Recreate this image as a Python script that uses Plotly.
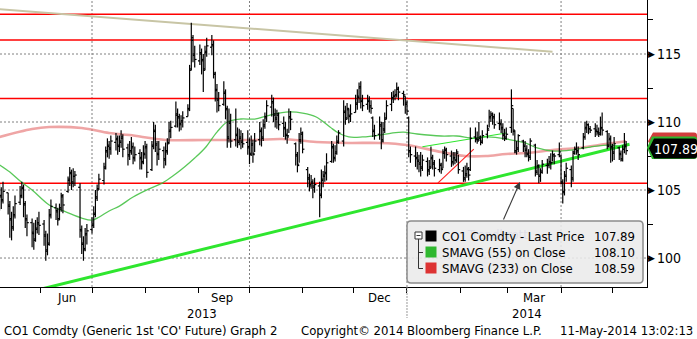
import pandas as pd
import plotly.graph_objects as go

# ---------------- data ----------------
dates = pd.bdate_range("2013-05-08", "2014-05-09")

opens = [
    104.2, 104.5, 104.3,
    104.8, 103.9, 102.8, 102.3, 103.2,
    104.1, 104.5, 105.1, 103.9, 102.9,
    102.6, 101.9, 101.4, 102.1, 102.6,
    102.5, 101.7, 100.5, 101.1, 103.1,
    103.7, 103.5, 102.9, 103.7, 104.5,
    104.9, 105.7, 106.2, 105.5, 106.0,
    105.2, 102.1, 101.1, 100.7, 101.7,
    102.1, 102.5, 103.3, 104.5, 105.1,
    105.7, 106.7, 107.9, 108.2, 108.1,
    108.5, 108.7, 108.3, 108.6, 108.8,
    108.1, 107.6, 107.8, 108.1, 107.4,
    107.7, 107.3, 107.1, 107.7, 108.1,
    106.5, 108.3, 109.3, 108.3, 107.7,
    107.9, 107.3, 107.9, 108.5, 109.3,
    109.7, 110.5, 110.3, 109.9, 110.1,
    110.4, 111.0, 113.9, 116.0, 114.9,
    114.5, 115.1, 114.5, 113.9, 115.1,
    115.5, 115.7, 113.5, 112.3, 111.7,
    111.3, 112.1, 110.9, 108.9, 109.9,
    108.7, 109.1, 108.5, 108.8, 108.6,
    108.5, 108.1, 107.7, 108.3, 107.7,
    108.7, 109.3, 108.9, 109.7, 110.3,
    111.1, 111.5, 110.5, 110.3, 110.5,
    109.9, 109.5, 109.1, 109.0, 110.3,
    108.4, 107.5, 106.9, 108.7, 109.1,
    106.5, 105.9, 105.4, 105.5, 105.3,
    105.3, 104.7, 105.7, 106.1, 106.3,
    107.1, 108.1, 107.4, 107.7, 108.5,
    108.6, 110.7, 110.3, 110.9, 110.5,
    110.7, 111.3, 111.9, 112.5, 111.5,
    111.3, 111.5, 111.1, 110.3, 109.3,
    109.1, 109.7, 108.7, 109.5, 110.3,
    111.3, 111.7, 111.9, 112.0, 112.4,
    112.1, 111.9, 111.3, 110.3, 107.9,
    107.5, 107.3, 107.1, 106.9, 106.7,
    107.1, 106.5, 106.7, 107.3, 106.9,
    106.5, 106.9, 106.6, 107.7, 107.9,
    107.5, 107.1, 107.3, 107.2, 107.7,
    106.4, 105.9, 106.1, 106.5, 106.5,
    108.9, 108.7, 108.7, 108.8, 108.6,
    109.1, 109.5, 110.3, 110.5, 110.3,
    109.9, 109.9, 109.5, 109.1, 108.8,
    109.6, 111.0, 109.3, 107.9, 108.1,
    108.6, 108.3, 107.9, 107.7, 107.5,
    108.3, 106.4, 106.7, 106.1, 106.4,
    106.8, 106.9, 107.1, 107.0, 107.5,
    107.6, 107.5, 105.5, 104.9, 106.1,
    106.5, 105.9, 107.8, 108.0, 107.8,
    108.1, 108.9, 109.5, 109.8, 109.5,
    109.5, 109.4, 109.3, 109.2, 109.5,
    109.3, 108.3, 108.7, 108.1, 107.7,
    108.1, 107.7, 107.3, 108.0, 108.3,
]

highs = [
    105.5, 105.2, 105.6,
    104.8, 104.2, 103.4, 103.8, 104.6,
    105.3, 105.6, 105.4, 104.2, 103.2,
    102.9, 102.6, 102.8, 103.0, 103.4,
    102.8, 102.0, 101.8, 103.6, 104.3,
    104.0, 103.7, 104.0, 104.8, 104.7,
    106.0, 106.7, 106.5, 106.6, 106.4,
    105.5, 102.4, 101.6, 102.2, 102.5,
    103.0, 103.8, 105.0, 105.4, 106.2,
    107.0, 108.2, 108.8, 108.6, 109.0,
    109.2, 109.0, 109.0, 109.4, 109.1,
    108.4, 108.6, 108.9, 108.5, 108.2,
    108.0, 107.8, 108.3, 108.6, 108.4,
    108.6, 110.0, 109.8, 108.6, 108.6,
    108.2, 108.5, 108.8, 110.0, 110.1,
    111.5, 111.0, 110.6, 110.5, 110.8,
    111.3, 114.2, 117.3, 116.4, 115.6,
    115.7, 115.4, 115.0, 115.6, 116.2,
    116.4, 116.0, 113.7, 112.8, 112.2,
    113.0, 112.4, 111.2, 111.0, 110.6,
    111.0, 109.6, 109.5, 109.4, 109.2,
    109.4, 108.8, 109.0, 108.7, 109.2,
    110.0, 109.6, 110.2, 110.7, 111.6,
    112.0, 111.8, 111.0, 110.9, 110.7,
    110.4, 110.0, 109.5, 111.0, 110.8,
    108.5, 107.8, 109.2, 109.6, 109.3,
    106.7, 106.2, 106.1, 105.8, 105.9,
    105.6, 106.5, 106.4, 106.8, 107.7,
    108.6, 108.4, 108.3, 109.0, 109.4,
    111.6, 111.2, 111.4, 111.0, 111.3,
    112.0, 112.4, 112.9, 113.0, 112.0,
    112.0, 111.9, 111.6, 110.4, 109.8,
    110.4, 110.0, 110.0, 110.7, 111.6,
    112.2, 112.3, 112.4, 112.9, 112.6,
    112.3, 111.9, 111.6, 110.4, 108.2,
    108.2, 107.8, 107.6, 107.8, 107.6,
    107.4, 107.2, 108.2, 107.6, 107.2,
    107.3, 107.0, 108.0, 108.2, 108.1,
    107.9, 107.8, 107.8, 108.0, 107.6,
    106.7, 106.8, 107.0, 106.7, 109.6,
    109.6, 109.3, 110.0, 109.0, 109.4,
    109.8, 110.9, 110.8, 110.7, 110.6,
    110.7, 110.2, 109.9, 109.5, 109.6,
    112.4, 111.0, 109.4, 108.6, 109.1,
    108.7, 108.6, 108.3, 108.0, 108.8,
    108.4, 107.2, 106.9, 106.6, 107.2,
    107.3, 107.5, 107.7, 107.9, 107.7,
    108.5, 107.6, 105.8, 106.4, 107.0,
    106.8, 107.9, 108.2, 108.5, 108.2,
    109.2, 110.0, 110.1, 109.9, 109.7,
    109.9, 109.8, 109.6, 110.4, 110.7,
    109.4, 109.2, 109.0, 108.4, 108.9,
    108.2, 107.9, 108.3, 109.2, 108.6,
]

lows = [
    103.5, 103.6, 104.0,
    103.2, 101.5, 101.3, 102.0, 102.9,
    103.9, 104.4, 103.0, 102.2, 101.6,
    100.8, 100.6, 101.2, 101.8, 101.7,
    100.9, 99.8, 100.2, 100.9, 102.9,
    102.8, 102.4, 102.8, 103.4, 103.3,
    104.8, 105.3, 105.0, 105.2, 105.3,
    101.5, 100.3, 99.8, 100.5, 101.0,
    101.8, 102.2, 103.0, 104.2, 105.0,
    105.4, 106.5, 107.4, 107.3, 107.6,
    107.9, 107.6, 107.8, 108.1, 107.4,
    106.8, 107.2, 107.6, 106.9, 107.1,
    106.5, 106.5, 106.9, 107.3, 105.9,
    106.4, 108.0, 107.8, 106.8, 107.2,
    106.6, 106.8, 107.6, 108.4, 108.8,
    109.6, 109.6, 109.3, 109.4, 109.6,
    110.4, 110.8, 113.8, 114.4, 114.0,
    114.2, 113.5, 112.2, 113.8, 114.8,
    114.9, 113.2, 111.5, 110.7, 110.8,
    111.2, 110.2, 108.1, 108.5, 108.1,
    108.2, 108.1, 108.3, 108.0, 108.1,
    107.6, 106.9, 107.5, 107.0, 107.8,
    108.3, 108.2, 108.6, 109.5, 110.0,
    110.4, 110.0, 109.6, 109.5, 109.4,
    108.9, 108.7, 108.4, 109.2, 109.4,
    106.8, 106.3, 107.0, 108.4, 107.7,
    105.2, 104.9, 105.1, 104.4, 104.8,
    103.0, 104.4, 105.2, 105.6, 105.7,
    107.0, 107.0, 107.1, 107.6, 108.4,
    108.2, 109.8, 110.2, 109.9, 110.0,
    110.7, 110.9, 111.4, 111.0, 110.8,
    110.9, 110.7, 110.6, 108.9, 108.7,
    108.7, 108.0, 108.5, 109.2, 110.2,
    110.8, 111.4, 111.6, 111.8, 111.6,
    111.2, 110.6, 110.5, 107.4, 107.0,
    106.7, 106.5, 106.3, 106.0, 106.4,
    106.0, 106.1, 106.6, 106.5, 106.0,
    106.3, 106.2, 106.6, 107.3, 107.1,
    106.7, 106.8, 106.9, 107.0, 106.2,
    105.6, 105.6, 105.9, 105.7, 106.4,
    108.5, 108.4, 108.6, 108.3, 108.4,
    108.8, 109.6, 110.0, 109.8, 109.5,
    109.4, 109.2, 108.7, 108.6, 108.7,
    109.2, 109.0, 107.7, 107.6, 107.8,
    107.8, 107.4, 107.4, 107.1, 107.2,
    106.0, 106.1, 105.5, 105.6, 106.2,
    106.2, 106.6, 106.5, 107.1, 106.9,
    107.4, 105.4, 104.0, 104.6, 105.6,
    105.2, 105.6, 107.6, 107.6, 107.2,
    108.0, 108.7, 109.2, 109.1, 109.2,
    108.9, 109.0, 108.9, 109.0, 109.0,
    108.0, 108.1, 107.0, 107.1, 107.2,
    107.2, 107.1, 107.1, 107.7, 107.6,
]

closes = [
    104.6, 104.2, 104.9,
    103.8, 102.9, 102.2, 103.1, 104.0,
    104.6, 105.2, 104.0, 102.8, 102.6,
    101.8, 101.3, 102.2, 102.5, 102.4,
    101.6, 100.6, 101.0, 103.2, 103.8,
    103.4, 102.8, 103.6, 104.6, 103.9,
    105.8, 106.3, 105.6, 106.0, 106.1,
    102.0, 101.0, 100.6, 101.8, 102.0,
    102.4, 103.2, 104.4, 105.0, 105.8,
    106.6, 107.8, 108.3, 108.0, 108.6,
    108.8, 108.2, 108.5, 108.9, 108.0,
    107.5, 107.9, 108.2, 107.3, 107.6,
    107.4, 107.0, 107.6, 108.2, 106.3,
    108.2, 109.4, 108.4, 107.6, 108.0,
    107.2, 107.8, 108.4, 109.4, 109.6,
    110.6, 110.4, 109.8, 110.0, 110.3,
    110.9, 113.8, 116.2, 115.0, 114.6,
    115.0, 114.6, 113.8, 115.2, 115.6,
    115.6, 113.6, 112.4, 111.6, 111.2,
    112.2, 111.0, 108.8, 110.0, 108.6,
    109.0, 108.6, 108.9, 108.5, 108.4,
    108.2, 107.6, 108.4, 107.6, 108.6,
    109.4, 108.8, 109.8, 110.4, 111.2,
    111.4, 110.6, 110.2, 110.6, 109.8,
    109.6, 109.0, 108.9, 110.4, 110.2,
    107.6, 106.8, 108.6, 109.2, 108.0,
    105.8, 105.3, 105.6, 105.2, 105.4,
    104.6, 105.8, 106.0, 106.2, 107.0,
    108.2, 107.3, 107.8, 108.6, 109.2,
    110.8, 110.2, 111.0, 110.4, 110.6,
    111.4, 111.8, 112.6, 111.6, 111.2,
    111.6, 111.2, 111.0, 109.4, 109.0,
    109.8, 108.6, 109.4, 110.2, 111.2,
    111.8, 111.9, 112.0, 112.5, 112.2,
    112.0, 111.4, 110.8, 107.8, 107.6,
    107.4, 107.2, 107.0, 106.6, 107.2,
    106.4, 106.6, 107.4, 107.0, 106.6,
    106.8, 106.5, 107.8, 108.0, 107.6,
    107.0, 107.4, 107.2, 107.8, 106.5,
    105.8, 106.2, 106.6, 106.1, 108.8,
    108.8, 108.6, 108.9, 108.5, 109.0,
    109.4, 110.4, 110.6, 110.4, 109.8,
    109.8, 109.6, 109.0, 108.9, 109.1,
    111.2, 109.4, 107.8, 108.0, 109.0,
    108.2, 108.0, 107.6, 107.4, 108.6,
    106.3, 106.8, 106.0, 106.3, 106.9,
    106.8, 107.0, 107.0, 107.6, 107.5,
    107.8, 105.6, 104.8, 106.0, 106.6,
    105.8, 107.7, 108.0, 107.9, 107.6,
    108.9, 109.6, 109.8, 109.5, 109.4,
    109.3, 109.2, 109.1, 109.6, 109.4,
    108.2, 108.8, 108.2, 107.8, 108.4,
    107.6, 107.2, 108.0, 108.2, 107.89,
]

sma55_dates = ["2013-05-08", "2013-05-14", "2013-05-20", "2013-05-27", "2013-06-06",
               "2013-06-16", "2013-06-25", "2013-07-01", "2013-07-05", "2013-07-11",
               "2013-07-17", "2013-07-25", "2013-08-03", "2013-08-11", "2013-08-18",
               "2013-08-24", "2013-08-30", "2013-09-05", "2013-09-12", "2013-09-18",
               "2013-09-26", "2013-10-04", "2013-10-13", "2013-10-24", "2013-11-01",
               "2013-11-09", "2013-11-17", "2013-11-22", "2013-11-28", "2013-12-06",
               "2013-12-16", "2013-12-23", "2013-12-30", "2014-01-07", "2014-01-21",
               "2014-01-30", "2014-02-09", "2014-02-17", "2014-02-28", "2014-03-11",
               "2014-03-18", "2014-03-27", "2014-04-07", "2014-04-18", "2014-04-30",
               "2014-05-09"]
sma55_vals = [106.84, 106.32, 105.66, 105.0, 103.9,
              103.38, 102.94, 102.79, 103.0, 103.46,
              103.82, 104.49, 105.07, 105.51, 106.1,
              106.69, 107.35, 108.09, 109.26, 110.0,
              110.22, 110.22, 110.51, 110.74, 110.66,
              110.37, 109.63, 109.19, 108.9, 108.9,
              109.04, 109.19, 109.26, 109.12, 108.97,
              108.97, 108.82, 108.9, 108.75, 108.46,
              108.09, 107.87, 107.94, 108.16, 108.3,
              108.10]

sma233_dates = ["2013-05-08", "2013-05-27", "2013-06-06", "2013-06-25", "2013-07-11",
                "2013-07-23", "2013-08-13", "2013-09-06", "2013-10-04", "2013-10-20",
                "2013-11-09", "2013-11-28", "2013-12-16", "2014-01-01", "2014-01-21",
                "2014-02-04", "2014-02-16", "2014-02-28", "2014-03-12", "2014-03-27",
                "2014-04-11", "2014-04-27", "2014-05-09"]
sma233_vals = [108.9, 109.49, 109.63, 109.56, 109.19,
               109.04, 108.68, 108.68, 108.68, 108.75,
               108.53, 108.46, 108.46, 108.31, 107.79,
               107.5, 107.5, 107.65, 107.72, 107.94,
               108.09, 108.38, 108.59]

h_levels = [117.92, 116.03, 111.73, 105.49]

tan_dates = ["2013-05-08", "2014-03-27"]
tan_vals = [118.29, 115.17]
support_dates = ["2013-05-22", "2014-05-11"]
support_vals = [97.40, 108.36]
channel_dates = ["2014-01-10", "2014-02-28"]
channel_vals = [108.18, 109.19]
redtrend_dates = ["2014-01-19", "2014-02-09"]
redtrend_vals = [105.51, 108.01]

grid_dates = ["2013-07-01", "2013-10-01", "2014-01-01", "2014-04-01"]
grid_levels = [100, 105, 110, 115]
month_ticks = pd.date_range("2013-06-01", "2014-05-01", freq="MS")
month_labels = ["Jun", "Sep", "Dec", "Mar"]
month_label_dates = ["2013-06-16", "2013-09-15", "2013-12-16", "2014-03-16"]
year_labels = ["2013", "2014"]
year_label_dates = ["2013-09-03", "2014-03-12"]
ytick_major = [100, 105, 110, 115]
ytick_all = [100, 102.5, 105, 107.5, 110, 112.5, 115, 117.5]

legend_names = ["CO1 Comdty - Last Price", "SMAVG (55) on Close", "SMAVG (233) on Close"]
legend_values = ["107.89", "108.10", "108.59"]
legend_colors = ["#000000", "#2fb82f", "#dd3333"]

last_price_label = "107.89"
sma233_label = "108.59"

arrow_tail = ("2014-02-26", 102.72)
arrow_head = ("2014-03-08", 105.59)
arrow_text = "Trendbrott"
arrow_text_pos = ("2014-02-23", 101.62)

footer_left = "CO1 Comdty (Generic 1st 'CO' Future) Graph 2"
footer_mid = "Copyright\u00a9 2014 Bloomberg Finance L.P."
footer_right = "11-May-2014 13:02:13"

# ---------------- layout constants ----------------
W, H = 697, 339
PW, PH = 647, 287
FONT = "DejaVu Sans Condensed, Liberation Sans Narrow, DejaVu Sans, sans-serif"
X_RANGE = ["2013-05-08 06:00", "2014-05-21 05:00"]
Y_RANGE = [97.87, 118.97]


def px(x):
    return x / PW


def py(y):
    return 1 - y / PH


def tag_path(x_tip, x0, x1, y0, y1, r=3):
    ym = (y0 + y1) / 2
    return (f"M {px(x_tip)},{py(ym)} L {px(x0)},{py(y0)} L {px(x1 - r)},{py(y0)} "
            f"Q {px(x1)},{py(y0)} {px(x1)},{py(y0 + r)} L {px(x1)},{py(y1 - r)} "
            f"Q {px(x1)},{py(y1)} {px(x1 - r)},{py(y1)} L {px(x0)},{py(y1)} Z")


fig = go.Figure()

# OHLC bars drawn as line segments
tick = pd.Timedelta(hours=26)
bx, by = [], []
for d, o, h, l, c in zip(dates, opens, highs, lows, closes):
    bx += [d, d, None, d - tick, d, None, d, d + tick, None]
    by += [l, h, None, o, o, None, c, c, None]

# text that sits behind the legend box
fig.add_trace(go.Scatter(x=[arrow_text_pos[0]], y=[arrow_text_pos[1]], mode="text",
                         text=[arrow_text], textfont=dict(family=FONT, size=13, color="#8080c8"),
                         hoverinfo="skip", showlegend=False))
fig.add_trace(go.Scatter(x=tan_dates, y=tan_vals, mode="lines",
                         line=dict(color="#c8c5a5", width=2), showlegend=False))
fig.add_trace(go.Scatter(x=sma233_dates, y=sma233_vals, mode="lines", line_shape="spline",
                         line=dict(color="rgba(228,105,105,0.6)", width=2.6), showlegend=False))
fig.add_trace(go.Scatter(x=sma55_dates, y=sma55_vals, mode="lines", line_shape="spline",
                         line=dict(color="rgba(60,190,60,0.85)", width=1.3), showlegend=False))
fig.add_trace(go.Scatter(x=support_dates, y=support_vals, mode="lines",
                         line=dict(color="#2ee62e", width=3), showlegend=False))
fig.add_trace(go.Scatter(x=channel_dates, y=channel_vals, mode="lines",
                         line=dict(color="#2ee62e", width=1.2), showlegend=False))
fig.add_trace(go.Scatter(x=redtrend_dates, y=redtrend_vals, mode="lines",
                         line=dict(color="#ff2020", width=1.1), showlegend=False))
fig.add_trace(go.Scatter(x=bx, y=by, mode="lines", line=dict(color="#000000", width=1.2),
                         hoverinfo="skip", showlegend=False))
# red SMA tag text (mostly hidden behind the last-price tag)
fig.add_trace(go.Scatter(x=["2014-06-07"], y=[108.55], mode="text", text=[sma233_label],
                         textfont=dict(family=FONT, size=13, color="#ffdede"),
                         cliponaxis=False, hoverinfo="skip", showlegend=False))

shapes = []
# grid
for gd in grid_dates:
    shapes.append(dict(type="line", xref="x", yref="paper", x0=gd, x1=gd, y0=0, y1=1,
                       line=dict(color="#808080", width=1, dash="2px,2px"), layer="below"))
for gl in grid_levels:
    shapes.append(dict(type="line", xref="paper", yref="y", x0=0, x1=1, y0=gl, y1=gl,
                       line=dict(color="#808080", width=1, dash="2px,2px"), layer="below"))
# red horizontal levels
for lv in h_levels:
    shapes.append(dict(type="line", xref="paper", yref="y", x0=0, x1=1, y0=lv, y1=lv,
                       line=dict(color="#ff0000", width=1.5), layer="below"))
# year separator below the axis
shapes.append(dict(type="line", xref="x", yref="paper", x0="2014-01-01", x1="2014-01-01",
                   y0=0, y1=py(318), line=dict(color="#999999", width=1, dash="2px,1px")))

# legend box (rounded)
lx0, ly0, lx1, ly1, r = 407, 221, 643, 283, 4
path = (f"M {px(lx0 + r)},{py(ly0)} L {px(lx1 - r)},{py(ly0)} "
        f"Q {px(lx1)},{py(ly0)} {px(lx1)},{py(ly0 + r)} L {px(lx1)},{py(ly1 - r)} "
        f"Q {px(lx1)},{py(ly1)} {px(lx1 - r)},{py(ly1)} L {px(lx0 + r)},{py(ly1)} "
        f"Q {px(lx0)},{py(ly1)} {px(lx0)},{py(ly1 - r)} L {px(lx0)},{py(ly0 + r)} "
        f"Q {px(lx0)},{py(ly0)} {px(lx0 + r)},{py(ly0)} Z")
shapes.append(dict(type="path", xref="paper", yref="paper", path=path,
                   fillcolor="rgba(234,234,234,0.88)", line=dict(color="#8c8c8c", width=1.5),
                   layer="above"))
# tree icon
shapes.append(dict(type="rect", xref="paper", yref="paper", x0=px(415), x1=px(422),
                   y0=py(239), y1=py(232), line=dict(color="#333", width=1),
                   fillcolor="white", layer="above"))
shapes.append(dict(type="line", xref="paper", yref="paper", x0=px(416.5), x1=px(420.5),
                   y0=py(235.5), y1=py(235.5), line=dict(color="#333", width=1), layer="above"))
shapes.append(dict(type="line", xref="paper", yref="paper", x0=px(418.5), x1=px(418.5),
                   y0=py(239), y1=py(268.5), line=dict(color="#333", width=1), layer="above"))
for ry in (252.5, 268.5):
    shapes.append(dict(type="line", xref="paper", yref="paper", x0=px(418.5), x1=px(423),
                       y0=py(ry), y1=py(ry), line=dict(color="#333", width=1), layer="above"))
row_y = [236, 252, 268]
for ry, col in zip(row_y, legend_colors):
    shapes.append(dict(type="rect", xref="paper", yref="paper", x0=px(425.5), x1=px(436.5),
                       y0=py(ry + 5.5), y1=py(ry - 5.5), line=dict(width=0),
                       fillcolor=col, layer="above"))

# value tags at the right edge: red (SMA233) behind, green outline, black last price
shapes.append(dict(type="path", xref="paper", yref="paper",
                   path=tag_path(648, 653, 697, 132.5, 150), fillcolor="#d23c3c",
                   line=dict(width=0), layer="above"))
shapes.append(dict(type="path", xref="paper", yref="paper",
                   path=tag_path(647, 652, 697, 136.5, 159), fillcolor="#2fb82f",
                   line=dict(width=0), layer="above"))
shapes.append(dict(type="path", xref="paper", yref="paper",
                   path=tag_path(649, 654, 697, 138.5, 158.5), fillcolor="#000000",
                   line=dict(width=0), layer="above"))

annotations = []
for ry, name, val in zip(row_y, legend_names, legend_values):
    annotations.append(dict(xref="paper", yref="paper", x=px(440), y=py(ry), text=name,
                            showarrow=False, xanchor="left", yanchor="middle",
                            font=dict(family=FONT, size=13, color="#000")))
    annotations.append(dict(xref="paper", yref="paper", x=px(637), y=py(ry), text=val,
                            showarrow=False, xanchor="right", yanchor="middle",
                            font=dict(family=FONT, size=13, color="#000")))

# arrow pointing to the trend break
annotations.append(dict(x=arrow_head[0], y=arrow_head[1], ax=arrow_tail[0], ay=arrow_tail[1],
                        xref="x", yref="y", axref="x", ayref="y", text="", showarrow=True,
                        arrowhead=2, arrowsize=1.3, arrowwidth=1.1, arrowcolor="#3a3a3a"))

# x labels
for lbl, d in zip(month_labels, month_label_dates):
    annotations.append(dict(xref="x", yref="paper", x=d, y=py(297), text=lbl, showarrow=False,
                            xanchor="center", yanchor="middle",
                            font=dict(family=FONT, size=13, color="#000")))
for lbl, d in zip(year_labels, year_label_dates):
    annotations.append(dict(xref="x", yref="paper", x=d, y=py(313), text=lbl, showarrow=False,
                            xanchor="center", yanchor="middle",
                            font=dict(family=FONT, size=13, color="#000")))
# y labels with triangles
for v in ytick_major:
    annotations.append(dict(xref="paper", yref="y", x=1, y=v, text="\u25B6", showarrow=False,
                            xanchor="left", yanchor="middle", xshift=-1,
                            font=dict(family="DejaVu Sans", size=9, color="#000")))
    annotations.append(dict(xref="paper", yref="y", x=1, y=v, text=str(v), showarrow=False,
                            xanchor="left", yanchor="middle", xshift=8,
                            font=dict(family=FONT, size=14, color="#000")))

# last price tag text
annotations.append(dict(xref="paper", yref="paper", x=px(676), y=py(148.5), text=last_price_label,
                        showarrow=False, xanchor="center", yanchor="middle",
                        font=dict(family=FONT, size=14, color="#ffffff")))

# footer
annotations.append(dict(xref="paper", yref="paper", x=px(2), y=py(330), text=footer_left,
                        showarrow=False, xanchor="left", yanchor="middle",
                        font=dict(family=FONT, size=13, color="#000")))
annotations.append(dict(xref="paper", yref="paper", x=px(299), y=py(330), text=footer_mid,
                        showarrow=False, xanchor="left", yanchor="middle",
                        font=dict(family=FONT, size=13, color="#000")))
annotations.append(dict(xref="paper", yref="paper", x=px(695), y=py(330), text=footer_right,
                        showarrow=False, xanchor="right", yanchor="middle",
                        font=dict(family=FONT, size=13, color="#000")))

fig.update_layout(
    width=W, height=H,
    margin=dict(l=0, r=W - PW, t=0, b=H - PH, pad=0),
    paper_bgcolor="white", plot_bgcolor="white",
    showlegend=False,
    shapes=shapes, annotations=annotations,
    xaxis=dict(type="date", range=X_RANGE, showgrid=False, zeroline=False,
               tickvals=list(month_ticks), ticks="outside", ticklen=5, tickcolor="#000",
               showticklabels=False, showline=True, linecolor="#000", linewidth=1),
    yaxis=dict(range=Y_RANGE, side="right", showgrid=False, zeroline=False,
               tickvals=ytick_all, ticks="outside", ticklen=5, tickcolor="#000",
               showticklabels=False, showline=True, linecolor="#000", linewidth=1),
)

fig.write_html("out.html")
